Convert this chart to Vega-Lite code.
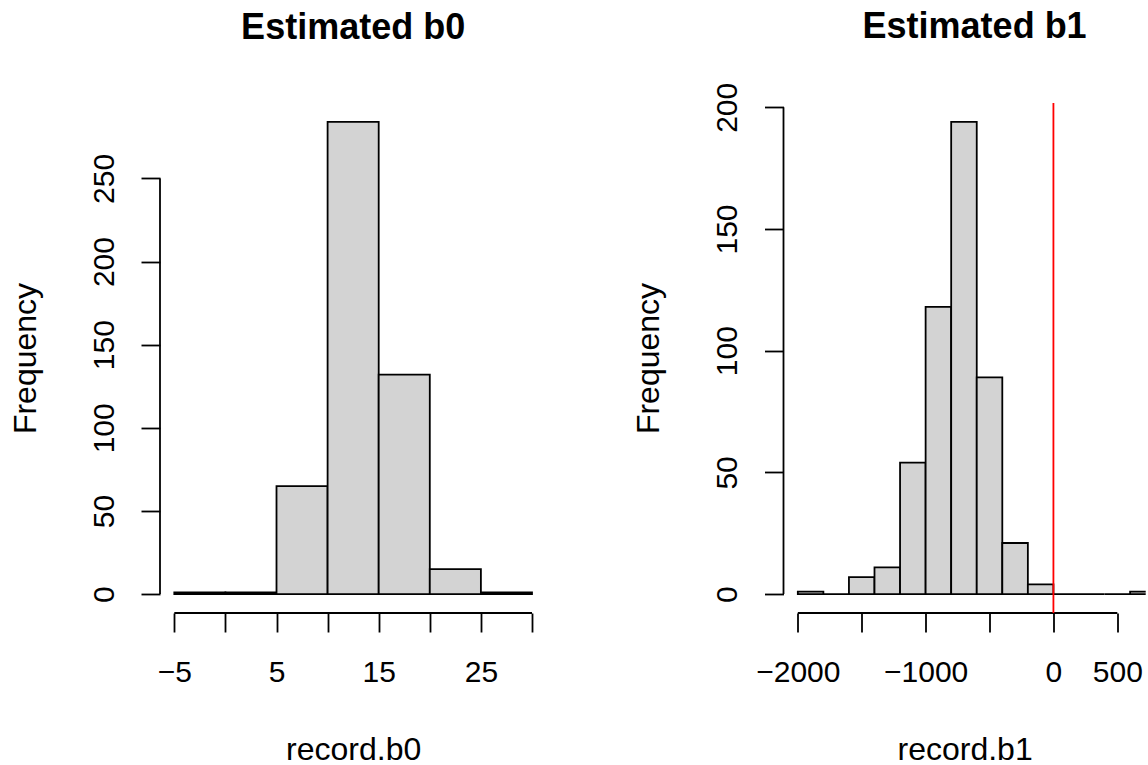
{
  "$schema": "https://vega.github.io/schema/vega-lite/v6.json",
  "background": "white",
  "padding": {"left": 9, "right": 0, "top": 9, "bottom": 0},
  "spacing": 85.5,
  "config": {
    "view": {"stroke": null},
    "font": "Liberation Sans",
    "axis": {
      "domain": false, "grid": false,
      "tickSize": 19, "tickWidth": 1.8, "tickColor": "black",
      "labelFont": "Liberation Sans", "labelFontSize": 30, "labelColor": "black",
      "labelPadding": 28, "labelFlush": false, "labelOverlap": false,
      "titleFont": "Liberation Sans", "titleFontSize": 32, "titleFontWeight": "normal", "titleColor": "black",
      "titleBaseline": "alphabetic", "minExtent": 80, "maxExtent": 80
    },
    "axisX": {"labelBaseline": "top", "labelPadding": 25, "titlePadding": 66},
    "axisY": {"labelAngle": -90, "labelAlign": "center", "labelBaseline": "alphabetic", "titlePadding": 45, "titleAngle": -90}
  },
  "datasets": {
    "b0": [
      {"bin_start": -5, "bin_end": 0, "count": 1},
      {"bin_start": 0, "bin_end": 5, "count": 1},
      {"bin_start": 5, "bin_end": 10, "count": 65},
      {"bin_start": 10, "bin_end": 15, "count": 284},
      {"bin_start": 15, "bin_end": 20, "count": 132},
      {"bin_start": 20, "bin_end": 25, "count": 15},
      {"bin_start": 25, "bin_end": 30, "count": 1}
    ],
    "b1": [
      {"bin_start": -2000, "bin_end": -1800, "count": 1},
      {"bin_start": -1800, "bin_end": -1600, "count": 0},
      {"bin_start": -1600, "bin_end": -1400, "count": 7},
      {"bin_start": -1400, "bin_end": -1200, "count": 11},
      {"bin_start": -1200, "bin_end": -1000, "count": 54},
      {"bin_start": -1000, "bin_end": -800, "count": 118},
      {"bin_start": -800, "bin_end": -600, "count": 194},
      {"bin_start": -600, "bin_end": -400, "count": 89},
      {"bin_start": -400, "bin_end": -200, "count": 21},
      {"bin_start": -200, "bin_end": 0, "count": 4},
      {"bin_start": 0, "bin_end": 200, "count": 0},
      {"bin_start": 200, "bin_end": 400, "count": 0},
      {"bin_start": 400, "bin_end": 600, "count": 0},
      {"bin_start": 600, "bin_end": 800, "count": 1}
    ],
    "ref": [{"value": 0}]
  },
  "hconcat": [
    {
      "width": 386.3,
      "height": 510,
      "title": {"text": "Estimated b0", "fontSize": 36, "fontWeight": "bold", "font": "Liberation Sans", "color": "black", "frame": "group", "anchor": "middle", "baseline": "alphabetic", "offset": 28},
      "layer": [
        {
          "data": {"name": "b0"},
          "mark": {"type": "rect", "fill": "#D3D3D3", "stroke": "black", "strokeWidth": 1.8, "clip": true},
          "encoding": {
            "x": {"field": "bin_start", "type": "quantitative",
              "scale": {"domain": [-6.4, 31.4], "nice": false, "zero": false},
              "axis": {"title": "record.b0", "values": [-5, 0, 5, 10, 15, 20, 25, 30],
                "labelExpr": "indexof([-5, 5, 15, 25], datum.value) >= 0 ? datum.label : ''"}},
            "x2": {"field": "bin_end"},
            "y": {"field": "count", "type": "quantitative",
              "scale": {"domain": [-11.36, 295.36], "nice": false, "zero": false},
              "axis": {"title": "Frequency", "values": [0, 50, 100, 150, 200, 250]}},
            "y2": {"datum": 0}
          }
        },
        {
          "data": {"values": [{}]},
          "mark": {"type": "rule", "color": "black", "strokeWidth": 1.8},
          "encoding": {"x": {"datum": -5}, "x2": {"datum": 30}, "y": {"datum": -11.36}}
        },
        {
          "data": {"values": [{}]},
          "mark": {"type": "rule", "color": "black", "strokeWidth": 1.8},
          "encoding": {"x": {"datum": -6.4}, "y": {"datum": 0}, "y2": {"datum": 250}}
        }
      ]
    },
    {
      "width": 362.2,
      "height": 510,
      "title": {"text": "Estimated b1", "fontSize": 36, "fontWeight": "bold", "font": "Liberation Sans", "color": "black", "frame": "group", "anchor": "middle", "baseline": "alphabetic", "offset": 8, "dx": 10},
      "layer": [
        {
          "data": {"name": "b1"},
          "mark": {"type": "rect", "fill": "#D3D3D3", "stroke": "black", "strokeWidth": 1.8, "clip": true},
          "encoding": {
            "x": {"field": "bin_start", "type": "quantitative",
              "scale": {"domain": [-2112, 722], "nice": false, "zero": false},
              "axis": {"title": "record.b1", "format": "d", "values": [-2000, -1500, -1000, -500, 0, 500],
                "labelExpr": "indexof([-2000, -1000, 0, 500], datum.value) >= 0 ? datum.label : ''"}},
            "x2": {"field": "bin_end"},
            "y": {"field": "count", "type": "quantitative",
              "scale": {"domain": [-7.76, 201.76], "nice": false, "zero": false},
              "axis": {"title": "Frequency", "values": [0, 50, 100, 150, 200]}},
            "y2": {"datum": 0}
          }
        },
        {
          "data": {"values": [{}]},
          "mark": {"type": "rule", "color": "black", "strokeWidth": 1.8},
          "encoding": {"x": {"datum": -2000}, "x2": {"datum": 500}, "y": {"datum": -7.76}}
        },
        {
          "data": {"values": [{}]},
          "mark": {"type": "rule", "color": "black", "strokeWidth": 1.8},
          "encoding": {"x": {"datum": -2112}, "y": {"datum": 0}, "y2": {"datum": 200}}
        },
        {
          "data": {"name": "ref"},
          "mark": {"type": "rule", "color": "#FF0000", "strokeWidth": 1.8},
          "encoding": {"x": {"field": "value", "type": "quantitative"}}
        }
      ]
    }
  ]
}
